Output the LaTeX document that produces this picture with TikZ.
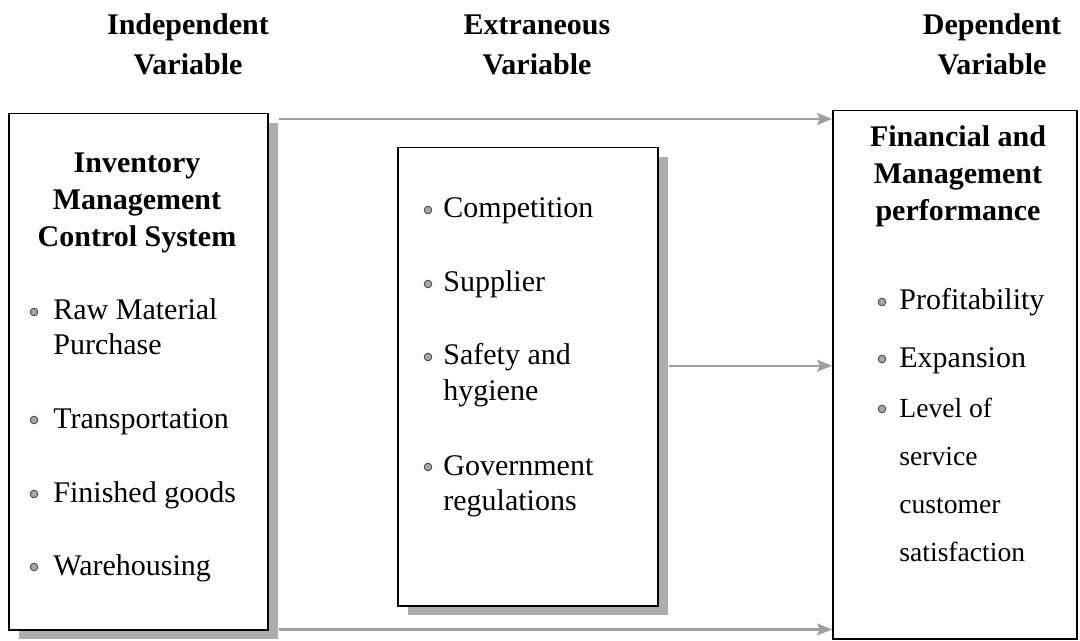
\documentclass[tikz,border=0pt]{standalone}
\usepackage{fontspec}
\setmainfont{Liberation Serif}
\usetikzlibrary{arrows.meta,shadows}

\begin{document}
\begin{tikzpicture}[x=0.5pt,y=-0.5pt]
    \tikzstyle{box} = [draw, line width=0.75pt, fill=white, inner sep=0pt, anchor=north west]
    \tikzstyle{shade} = [drop shadow={shadow xshift=5pt, shadow yshift=-4.5pt, fill=black!32, opacity=1}]
    \tikzstyle{head} = [font=\fontsize{15}{20}\selectfont\bfseries, align=center, anchor=base, inner sep=0pt]
    \tikzstyle{title} = [font=\fontsize{15}{18.5}\selectfont\bfseries, align=center, anchor=base, inner sep=0pt]
    \tikzstyle{item} = [font=\fontsize{15}{17.5}\selectfont, align=left, anchor=base west, inner sep=0pt]
    \tikzstyle{small} = [font=\fontsize{13.8}{24}\selectfont, align=left, anchor=base west, inner sep=0pt]
    \tikzstyle{dot} = [circle, draw=black!70, fill=black!35, line width=0.45pt, inner sep=0pt, minimum size=3.8pt]
    \tikzstyle{flow} = [draw=black!38, line width=1.2pt, -{Stealth[length=7.5pt, width=6pt, inset=1.5pt]}]
    \useasboundingbox (0,0) rectangle (1080,641);

    % multi-line nodes sit on the baseline of their last line
    \node[head] (hind) at (188,75) {Independent\\Variable};
    \node[head] (hext) at (537,75) {Extraneous\\Variable};
    \node[head] (hdep) at (992,75) {Dependent\\Variable};

    \node[box, shade, minimum width=129.5pt, minimum height=258pt] (ims) at (8,113) {};
    \node[box, shade, minimum width=130pt, minimum height=229pt] (ext) at (397,147) {};
    \node[box, minimum width=122pt, minimum height=264pt] (fin) at (832,110) {};

    \node[title] (tims) at (137,247) {Inventory\\Management\\Control System};
    \node[dot] (braw) at (34,312) {};
    \node[item] (raw) at (53,355) {Raw Material\\Purchase};
    \node[dot] (btrans) at (34,420) {};
    \node[item] (trans) at (53,428) {Transportation};
    \node[dot] (bgoods) at (34,494) {};
    \node[item] (goods) at (53,502) {Finished goods};
    \node[dot] (bware) at (34,567) {};
    \node[item] (ware) at (53,575) {Warehousing};

    \node[dot] (bcomp) at (428,210) {};
    \node[item] (comp) at (443,218) {Competition};
    \node[dot] (bsupp) at (428,284) {};
    \node[item] (supp) at (443,292) {Supplier};
    \node[dot] (bsafe) at (428,357) {};
    \node[item] (safe) at (443,400) {Safety and\\hygiene};
    \node[dot] (bgov) at (428,467) {};
    \node[item] (gov) at (443,510) {Government\\regulations};

    \node[title] (tfin) at (958,221) {Financial and\\Management\\performance};
    \node[dot] (bprof) at (882,302) {};
    \node[item] (prof) at (899,310) {Profitability};
    \node[dot] (bexpa) at (882,359) {};
    \node[item] (expa) at (899,367) {Expansion};
    \node[dot] (blev) at (882,409) {};
    \node[small] (lev) at (899,561) {Level of\\service\\customer\\satisfaction};

    \coordinate (ltop) at ([shift={(5pt,-3pt)}]ims.north east);
    \coordinate (lmid) at ([shift={(5pt,5.5pt)}]ext.east);
    \coordinate (lbot) at ([shift={(5pt,0.5pt)}]ims.south east);
    \draw[flow] (ltop) -- (ltop -| fin.west);
    \draw[flow] (lmid) -- (lmid -| fin.west);
    \draw[flow] (lbot) -- (lbot -| fin.west);
\end{tikzpicture}
\end{document}
